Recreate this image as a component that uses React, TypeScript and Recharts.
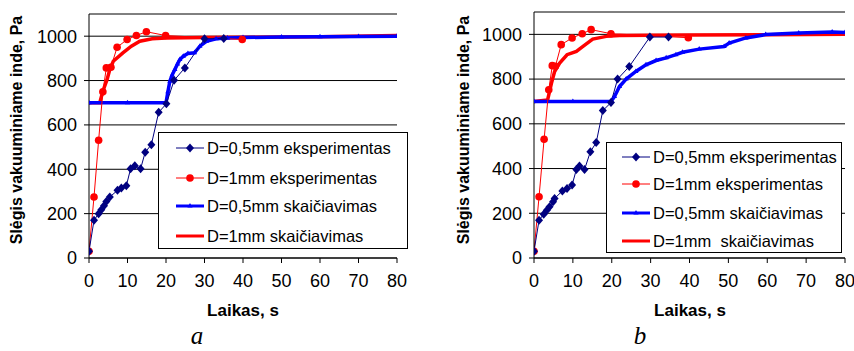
import { FC } from "react";
import { LineChart, Line, XAxis, YAxis, CartesianGrid } from "recharts";

// a: time (s) and pressure (Pa)
const tExp05A = [0, 1.3, 2.5, 3.2, 3.9, 4.5, 5.4, 7.4, 8.4, 9.7, 10.8, 11.9, 13.4, 14.6, 16.2, 18.1, 20.1, 22.1, 24.9, 30, 35];
const pExp05A = [30, 170, 200, 218, 236, 255, 275, 305, 316, 326, 402, 416, 402, 477, 511, 657, 695, 801, 857, 988, 990];
const tExp1A = [0, 1.3, 2.5, 3.6, 4.5, 5.7, 7.3, 9.9, 12.3, 14.9, 19.9, 39.8];
const pExp1A = [30, 275, 531, 749, 857, 860, 950, 985, 1003, 1020, 1003, 985];
const tCalc05A = [0, 10, 20, 20.5, 21, 21.6, 22.3, 23, 23.6, 24.5, 25.7, 27.4, 28.8, 30.5, 33, 36, 40, 50, 60, 70, 80];
const pCalc05A = [700, 700, 700, 750, 797, 825, 850, 875, 895, 910, 922, 925, 955, 977, 988, 992, 994, 996, 997, 999, 1000];
const tCalc1A = [0, 2.8, 3.6, 4.7, 5.4, 6.3, 8.8, 11, 13.2, 16.4, 20, 30, 40, 60, 80];
const pCalc1A = [700, 700, 752, 805, 850, 887, 925, 955, 977, 988, 992, 994, 995, 997, 1003];

// b
const tExp05B = [0, 1.3, 2.5, 3.3, 4.0, 4.9, 5.3, 7.3, 8.5, 9.8, 10.9, 11.7, 13, 14.5, 16, 17.7, 19.8, 21.5, 24.5, 29.8, 34.6];
const pExp05B = [30, 169, 196, 214, 229, 251, 266, 300, 311, 326, 396, 411, 396, 475, 516, 659, 695, 800, 856, 988, 988];
const tExp1B = [0, 1.3, 2.6, 3.8, 4.7, 5.5, 7.0, 9.8, 12.4, 14.7, 19.8, 39.7];
const pExp1B = [30, 274, 531, 752, 860, 857, 954, 984, 1003, 1021, 1003, 985];
const tCalc05B = [0, 10, 19.8, 20.7, 22, 23.7, 26.2, 28.8, 31.4, 34, 36.5, 38.2, 42.5, 48.9, 50.2, 54.5, 59.6, 68.1, 76.7, 80];
const pCalc05B = [700, 700, 700, 722, 767, 800, 834, 864, 883, 895, 909, 920, 934, 946, 961, 984, 999, 1006, 1011, 1008];
const tCalc1B = [0, 3.5, 4.5, 5.3, 6.6, 8.5, 10.9, 12.6, 15.1, 18.6, 22, 30, 40, 60, 80];
const pCalc1B = [700, 707, 782, 834, 872, 909, 924, 946, 979, 991, 995, 996, 997, 998, 1000];

const xTicks = [0, 10, 20, 30, 40, 50, 60, 70, 80];
const yTicks = [0, 200, 400, 600, 800, 1000];

const legendNames = ["D=0,5mm eksperimentas", "D=1mm eksperimentas", "D=0,5mm skaičiavimas"];
const lastNameA = "D=1mm skaičiavimas";
const lastNameB = "D=1mm  skaičiavimas";
const yTitle = "Slėgis vakuuminiame inde, Pa";
const xTitle = "Laikas, s";

const FONT = "'Liberation Sans', Arial, sans-serif";
const NAVY = "#000080";
const RED = "#FF0000";
const BLUE = "#0000FF";

const zip = (ts: number[], ps: number[]) => ts.map((t, i) => ({ t, p: ps[i] }));

const Diamond = (props: any) => {
  const { cx, cy, index } = props;
  if (cx == null || cy == null) return <g key={`dm-${index}`} />;
  return (
    <path
      key={`dm-${index}`}
      d={`M${cx},${cy - 4.5}L${cx + 4},${cy}L${cx},${cy + 4.5}L${cx - 4},${cy}Z`}
      fill={NAVY}
    />
  );
};

const Circle = (props: any) => {
  const { cx, cy, index } = props;
  if (cx == null || cy == null) return <g key={`ci-${index}`} />;
  return <circle key={`ci-${index}`} cx={cx} cy={cy} r={3.8} fill={RED} />;
};

const Tri = (props: any) => {
  const { cx, cy, index } = props;
  if (cx == null || cy == null) return <g key={`tr-${index}`} />;
  return (
    <path
      key={`tr-${index}`}
      d={`M${cx},${cy - 3}L${cx + 2.6},${cy + 1.5}L${cx - 2.6},${cy + 1.5}Z`}
      fill={BLUE}
    />
  );
};

type PanelProps = {
  left: number;
  width: number;
  yWidth: number;
  right: number;
  top: number;
  exp05: { t: number; p: number }[];
  exp1: { t: number; p: number }[];
  calc05: { t: number; p: number }[];
  calc1: { t: number; p: number }[];
};

const Panel: FC<PanelProps> = ({ left, width, yWidth, right, top, exp05, exp1, calc05, calc1 }) => (
  <div style={{ position: "absolute", left, top: 0 }}>
    <LineChart
      width={width}
      height={351}
      margin={{ top, right, left: 0, bottom: 0 }}
      style={{ fontFamily: FONT }}
    >
      <CartesianGrid vertical={false} stroke="#000" strokeWidth={1} />
      <XAxis
        dataKey="t"
        type="number"
        domain={[0, 80]}
        ticks={xTicks}
        interval={0}
        height={93}
        tickSize={5}
        tickMargin={11}
        stroke="#000"
        tick={{ fill: "#000", fontSize: 18 }}
        allowDataOverflow
      />
      <YAxis
        type="number"
        domain={[0, 1100]}
        ticks={yTicks}
        interval={0}
        width={yWidth}
        tickSize={5}
        tickMargin={7}
        stroke="#000"
        tick={{ fill: "#000", fontSize: 18 }}
        allowDataOverflow
      />
      <Line data={calc1} dataKey="p" type="linear" stroke={RED} strokeWidth={3.5} dot={false} isAnimationActive={false} />
      <Line data={calc05} dataKey="p" type="linear" stroke={BLUE} strokeWidth={3.5} dot={Tri} isAnimationActive={false} />
      <Line data={exp1} dataKey="p" type="linear" stroke={RED} strokeWidth={1} dot={Circle} isAnimationActive={false} />
      <Line data={exp05} dataKey="p" type="linear" stroke={NAVY} strokeWidth={1} dot={Diamond} isAnimationActive={false} />
    </LineChart>
  </div>
);

const Sample: FC<{ kind: number }> = ({ kind }) => (
  <svg width={28} height={12} style={{ display: "block" }}>
    {kind === 0 && (
      <>
        <line x1={0} y1={6} x2={28} y2={6} stroke={NAVY} strokeWidth={1} />
        <path d="M14,1.5L18,6L14,10.5L10,6Z" fill={NAVY} />
      </>
    )}
    {kind === 1 && (
      <>
        <line x1={0} y1={6} x2={28} y2={6} stroke={RED} strokeWidth={1} />
        <circle cx={14} cy={6} r={3.8} fill={RED} />
      </>
    )}
    {kind === 2 && (
      <>
        <line x1={0} y1={6} x2={28} y2={6} stroke={BLUE} strokeWidth={3} />
        <path d="M14,3L16.6,7.5L11.4,7.5Z" fill={BLUE} />
      </>
    )}
    {kind === 3 && <line x1={0} y1={6} x2={28} y2={6} stroke={RED} strokeWidth={3} />}
  </svg>
);

type LegendProps = { left: number; top: number; width: number; height: number; rows: number[]; sx: number; names: string[] };

const LegendBox: FC<LegendProps> = ({ left, top, width, height, rows, sx, names }) => (
  <div
    style={{
      position: "absolute",
      left,
      top,
      width,
      height,
      boxSizing: "border-box",
      border: "1px solid #000",
      background: "#fff",
      fontFamily: FONT,
      fontSize: 16.5,
    }}
  >
    {names.map((n, i) => (
      <div
        key={n}
        style={{ position: "absolute", left: sx, top: rows[i] - 10, height: 20, display: "flex", alignItems: "center", whiteSpace: "pre" }}
      >
        <Sample kind={i} />
        <span style={{ marginLeft: 3 }}>{n}</span>
      </div>
    ))}
  </div>
);

const App: FC = () => (
  <div style={{ position: "absolute", left: 0, top: 0, width: 854, height: 351, background: "#fff", overflow: "hidden" }}>
    <Panel left={0} width={430} yWidth={89} right={33} top={14} exp05={zip(tExp05A, pExp05A)} exp1={zip(tExp1A, pExp1A)} calc05={zip(tCalc05A, pCalc05A)} calc1={zip(tCalc1A, pCalc1A)} />
    <Panel left={440} width={414} yWidth={94} right={9} top={12} exp05={zip(tExp05B, pExp05B)} exp1={zip(tExp1B, pExp1B)} calc05={zip(tCalc05B, pCalc05B)} calc1={zip(tCalc1B, pCalc1B)} />
    <svg width={854} height={351} style={{ position: "absolute", left: 0, top: 0, pointerEvents: "none" }}>
      <g fontFamily={FONT} fontWeight="bold" fontSize={16} fill="#000">
        <text transform="translate(22,130) rotate(-90)" textAnchor="middle">{yTitle}</text>
        <text transform="translate(469,130) rotate(-90)" textAnchor="middle">{yTitle}</text>
        <text x={243} y={316} textAnchor="middle" fontSize={17}>{xTitle}</text>
        <text x={690} y={316} textAnchor="middle" fontSize={17}>{xTitle}</text>
      </g>
      <g fontFamily="'Liberation Serif', 'Times New Roman', serif" fontStyle="italic" fontSize={25} fill="#000">
        <text x={197} y={344} textAnchor="middle">a</text>
        <text x={640} y={344} textAnchor="middle">b</text>
      </g>
    </svg>
    <LegendBox left={158} top={132} width={250} height={117} rows={[15, 45, 73, 103]} sx={17} names={[...legendNames, lastNameA]} />
    <LegendBox left={606} top={142} width={236} height={111} rows={[14, 41, 70, 98]} sx={15} names={[...legendNames, lastNameB]} />
  </div>
);

export default App;
